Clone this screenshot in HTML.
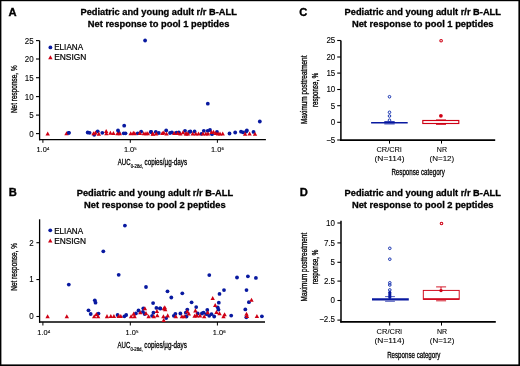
<!DOCTYPE html>
<html><head><meta charset="utf-8"><style>
html,body{margin:0;padding:0;background:#fff;}
svg{display:block;will-change:transform;}
text{font-family:"Liberation Sans",sans-serif;}
</style></head><body>
<svg width="520" height="366" viewBox="0 0 520 366">
<rect x="0" y="0" width="520" height="366" fill="#fff"/>
<text x="8.5" y="15.55" font-size="11.2" text-anchor="start" font-weight="bold" fill="#000" stroke="#000" stroke-width="0.35" >A</text>
<text x="8.8" y="196.25" font-size="11.2" text-anchor="start" font-weight="bold" fill="#000" stroke="#000" stroke-width="0.35" >B</text>
<text x="299.2" y="15.55" font-size="11.2" text-anchor="start" font-weight="bold" fill="#000" stroke="#000" stroke-width="0.35" >C</text>
<text x="299.7" y="196.25" font-size="11.2" text-anchor="start" font-weight="bold" fill="#000" stroke="#000" stroke-width="0.35" >D</text>
<text x="158.65" y="15.4" font-size="9.4" text-anchor="middle" font-weight="bold" fill="#000" textLength="156.4" lengthAdjust="spacingAndGlyphs" stroke="#000" stroke-width="0.3" >Pediatric and young adult r/r B-ALL</text>
<text x="158.65" y="26.6" font-size="9.4" text-anchor="middle" font-weight="bold" fill="#000" textLength="141.6" lengthAdjust="spacingAndGlyphs" stroke="#000" stroke-width="0.3" >Net response to pool 1 peptides</text>
<text x="154.9" y="196.4" font-size="9.4" text-anchor="middle" font-weight="bold" fill="#000" textLength="156.4" lengthAdjust="spacingAndGlyphs" stroke="#000" stroke-width="0.3" >Pediatric and young adult r/r B-ALL</text>
<text x="154.9" y="207.6" font-size="9.4" text-anchor="middle" font-weight="bold" fill="#000" textLength="141.6" lengthAdjust="spacingAndGlyphs" stroke="#000" stroke-width="0.3" >Net response to pool 2 peptides</text>
<text x="422.75" y="15.4" font-size="9.4" text-anchor="middle" font-weight="bold" fill="#000" textLength="156.4" lengthAdjust="spacingAndGlyphs" stroke="#000" stroke-width="0.3" >Pediatric and young adult r/r B-ALL</text>
<text x="422.75" y="26.6" font-size="9.4" text-anchor="middle" font-weight="bold" fill="#000" textLength="141.6" lengthAdjust="spacingAndGlyphs" stroke="#000" stroke-width="0.3" >Net response to pool 1 peptides</text>
<text x="422.75" y="196.4" font-size="9.4" text-anchor="middle" font-weight="bold" fill="#000" textLength="156.4" lengthAdjust="spacingAndGlyphs" stroke="#000" stroke-width="0.3" >Pediatric and young adult r/r B-ALL</text>
<text x="422.75" y="207.6" font-size="9.4" text-anchor="middle" font-weight="bold" fill="#000" textLength="141.6" lengthAdjust="spacingAndGlyphs" stroke="#000" stroke-width="0.3" >Net response to pool 2 peptides</text>
<line x1="39.6" y1="40.6" x2="39.6" y2="140.3" stroke="#000" stroke-width="1.3" />
<line x1="39.0" y1="139.6" x2="265.9" y2="139.6" stroke="#000" stroke-width="1.4" />
<line x1="36.0" y1="40.6" x2="39.6" y2="40.6" stroke="#000" stroke-width="1.1" />
<text x="33.6" y="43.5" font-size="8.6" text-anchor="end" font-weight="normal" fill="#000" textLength="8.89" lengthAdjust="spacingAndGlyphs" stroke="#000" stroke-width="0.1" >25</text>
<line x1="36.0" y1="59.0" x2="39.6" y2="59.0" stroke="#000" stroke-width="1.1" />
<text x="33.6" y="61.9" font-size="8.6" text-anchor="end" font-weight="normal" fill="#000" textLength="8.89" lengthAdjust="spacingAndGlyphs" stroke="#000" stroke-width="0.1" >20</text>
<line x1="36.0" y1="77.7" x2="39.6" y2="77.7" stroke="#000" stroke-width="1.1" />
<text x="33.6" y="80.60000000000001" font-size="8.6" text-anchor="end" font-weight="normal" fill="#000" textLength="8.89" lengthAdjust="spacingAndGlyphs" stroke="#000" stroke-width="0.1" >15</text>
<line x1="36.0" y1="96.6" x2="39.6" y2="96.6" stroke="#000" stroke-width="1.1" />
<text x="33.6" y="99.5" font-size="8.6" text-anchor="end" font-weight="normal" fill="#000" textLength="8.89" lengthAdjust="spacingAndGlyphs" stroke="#000" stroke-width="0.1" >10</text>
<line x1="36.0" y1="115.1" x2="39.6" y2="115.1" stroke="#000" stroke-width="1.1" />
<text x="33.6" y="118.0" font-size="8.6" text-anchor="end" font-weight="normal" fill="#000" textLength="4.45" lengthAdjust="spacingAndGlyphs" stroke="#000" stroke-width="0.1" >5</text>
<line x1="36.0" y1="133.6" x2="39.6" y2="133.6" stroke="#000" stroke-width="1.1" />
<text x="33.6" y="136.5" font-size="8.6" text-anchor="end" font-weight="normal" fill="#000" textLength="4.45" lengthAdjust="spacingAndGlyphs" stroke="#000" stroke-width="0.1" >0</text>
<line x1="42.9" y1="139.6" x2="42.9" y2="142.8" stroke="#000" stroke-width="1.0" />
<line x1="130.3" y1="139.6" x2="130.3" y2="142.8" stroke="#000" stroke-width="1.0" />
<line x1="217.4" y1="139.6" x2="217.4" y2="142.8" stroke="#000" stroke-width="1.0" />
<text x="36.5" y="152.2" font-size="8.1" text-anchor="start" font-weight="normal" fill="#000" textLength="10.3" lengthAdjust="spacingAndGlyphs" stroke="#000" stroke-width="0.12" >1.0</text>
<text x="46.9" y="149.6" font-size="4.2" text-anchor="start" font-weight="normal" fill="#000" stroke="#000" stroke-width="0.1" >4</text>
<text x="123.9" y="152.2" font-size="8.1" text-anchor="start" font-weight="normal" fill="#000" textLength="10.3" lengthAdjust="spacingAndGlyphs" stroke="#000" stroke-width="0.12" >1.0</text>
<text x="134.3" y="149.6" font-size="4.2" text-anchor="start" font-weight="normal" fill="#000" stroke="#000" stroke-width="0.1" >5</text>
<text x="211.0" y="152.2" font-size="8.1" text-anchor="start" font-weight="normal" fill="#000" textLength="10.3" lengthAdjust="spacingAndGlyphs" stroke="#000" stroke-width="0.12" >1.0</text>
<text x="221.4" y="149.6" font-size="4.2" text-anchor="start" font-weight="normal" fill="#000" stroke="#000" stroke-width="0.1" >6</text>
<text x="117.8" y="164.8" font-size="8.3" text-anchor="start" font-weight="normal" fill="#000" textLength="12.7" lengthAdjust="spacingAndGlyphs" stroke="#000" stroke-width="0.3" >AUC</text>
<text x="130.7" y="167.8" font-size="5" text-anchor="start" font-weight="normal" fill="#000" textLength="12.2" lengthAdjust="spacingAndGlyphs" stroke="#000" stroke-width="0.2" >0-28d,</text>
<text x="144.5" y="164.8" font-size="8.3" text-anchor="start" font-weight="normal" fill="#000" textLength="42.6" lengthAdjust="spacingAndGlyphs" stroke="#000" stroke-width="0.28" >copies/µg-days</text>
<text transform="translate(16.9,89.2) rotate(-90)" x="0" y="0" font-size="8.4" text-anchor="middle" fill="#000" stroke="#000" stroke-width="0.3" textLength="47.8" lengthAdjust="spacingAndGlyphs">Net response, %</text>
<circle cx="50.4" cy="47.4" r="1.9" fill="#0819a0"/>
<path d="M48.20 59.35L52.60 59.35L50.40 55.25Z" fill="#cf0014"/>
<text x="54.2" y="50.3" font-size="8.2" text-anchor="start" font-weight="normal" fill="#000" textLength="28.9" lengthAdjust="spacingAndGlyphs" stroke="#000" stroke-width="0.2" >ELIANA</text>
<text x="54.2" y="60.4" font-size="8.2" text-anchor="start" font-weight="normal" fill="#000" textLength="32.2" lengthAdjust="spacingAndGlyphs" stroke="#000" stroke-width="0.2" >ENSIGN</text>
<line x1="39.6" y1="219.3" x2="39.6" y2="322.75" stroke="#000" stroke-width="1.3" />
<line x1="39.0" y1="322.05" x2="265.0" y2="322.05" stroke="#000" stroke-width="1.4" />
<line x1="36.4" y1="242.7" x2="39.6" y2="242.7" stroke="#000" stroke-width="1.1" />
<text x="33.6" y="245.6" font-size="8.6" text-anchor="end" font-weight="normal" fill="#000" textLength="4.45" lengthAdjust="spacingAndGlyphs" stroke="#000" stroke-width="0.1" >2</text>
<line x1="36.4" y1="279.55" x2="39.6" y2="279.55" stroke="#000" stroke-width="1.1" />
<text x="33.6" y="282.45" font-size="8.6" text-anchor="end" font-weight="normal" fill="#000" textLength="4.45" lengthAdjust="spacingAndGlyphs" stroke="#000" stroke-width="0.1" >1</text>
<line x1="36.4" y1="316.5" x2="39.6" y2="316.5" stroke="#000" stroke-width="1.1" />
<text x="33.6" y="319.4" font-size="8.6" text-anchor="end" font-weight="normal" fill="#000" textLength="4.45" lengthAdjust="spacingAndGlyphs" stroke="#000" stroke-width="0.1" >0</text>
<line x1="42.9" y1="322.05" x2="42.9" y2="325.5" stroke="#000" stroke-width="1.0" />
<text x="37.3" y="335.3" font-size="8.1" text-anchor="start" font-weight="normal" fill="#000" textLength="10.3" lengthAdjust="spacingAndGlyphs" stroke="#000" stroke-width="0.12" >1.0</text>
<text x="47.699999999999996" y="332.5" font-size="4.4" text-anchor="start" font-weight="normal" fill="#000" stroke="#000" stroke-width="0.1" >4</text>
<line x1="130.3" y1="322.05" x2="130.3" y2="325.5" stroke="#000" stroke-width="1.0" />
<text x="125.60000000000001" y="335.3" font-size="8.1" text-anchor="start" font-weight="normal" fill="#000" textLength="10.3" lengthAdjust="spacingAndGlyphs" stroke="#000" stroke-width="0.12" >1.0</text>
<text x="136.0" y="332.5" font-size="4.4" text-anchor="start" font-weight="normal" fill="#000" stroke="#000" stroke-width="0.1" >5</text>
<line x1="217.4" y1="322.05" x2="217.4" y2="325.5" stroke="#000" stroke-width="1.0" />
<text x="212.8" y="335.3" font-size="8.1" text-anchor="start" font-weight="normal" fill="#000" textLength="10.3" lengthAdjust="spacingAndGlyphs" stroke="#000" stroke-width="0.12" >1.0</text>
<text x="223.20000000000002" y="332.5" font-size="4.4" text-anchor="start" font-weight="normal" fill="#000" stroke="#000" stroke-width="0.1" >6</text>
<text x="117.6" y="347.8" font-size="8.3" text-anchor="start" font-weight="normal" fill="#000" textLength="12.7" lengthAdjust="spacingAndGlyphs" stroke="#000" stroke-width="0.3" >AUC</text>
<text x="130.5" y="350.8" font-size="5" text-anchor="start" font-weight="normal" fill="#000" textLength="12.2" lengthAdjust="spacingAndGlyphs" stroke="#000" stroke-width="0.2" >0-28d,</text>
<text x="144.3" y="347.8" font-size="8.3" text-anchor="start" font-weight="normal" fill="#000" textLength="42.6" lengthAdjust="spacingAndGlyphs" stroke="#000" stroke-width="0.28" >copies/µg-days</text>
<text transform="translate(16.9,266.9) rotate(-90)" x="0" y="0" font-size="8.4" text-anchor="middle" fill="#000" stroke="#000" stroke-width="0.3" textLength="47.8" lengthAdjust="spacingAndGlyphs">Net response, %</text>
<circle cx="50.25" cy="230.3" r="1.9" fill="#0819a0"/>
<path d="M48.05 242.55L52.45 242.55L50.25 238.45Z" fill="#cf0014"/>
<text x="54.2" y="233.5" font-size="8.2" text-anchor="start" font-weight="normal" fill="#000" textLength="28.9" lengthAdjust="spacingAndGlyphs" stroke="#000" stroke-width="0.2" >ELIANA</text>
<text x="54.2" y="243.5" font-size="8.2" text-anchor="start" font-weight="normal" fill="#000" textLength="31.9" lengthAdjust="spacingAndGlyphs" stroke="#000" stroke-width="0.2" >ENSIGN</text>
<g>
<circle cx="68.8" cy="132.8" r="1.9" fill="#0819a0"/>
<circle cx="87.7" cy="132.5" r="1.9" fill="#0819a0"/>
<circle cx="89.6" cy="132.8" r="1.9" fill="#0819a0"/>
<circle cx="94.2" cy="134.8" r="1.9" fill="#0819a0"/>
<circle cx="97.7" cy="131.3" r="1.9" fill="#0819a0"/>
<circle cx="102.3" cy="132.8" r="1.9" fill="#0819a0"/>
<circle cx="118.8" cy="133" r="1.9" fill="#0819a0"/>
<circle cx="124.2" cy="125.7" r="1.9" fill="#0819a0"/>
<circle cx="123.7" cy="133.3" r="1.9" fill="#0819a0"/>
<circle cx="125.5" cy="133.3" r="1.9" fill="#0819a0"/>
<circle cx="137.7" cy="133.3" r="1.9" fill="#0819a0"/>
<circle cx="141.2" cy="131.6" r="1.9" fill="#0819a0"/>
<circle cx="151.2" cy="132" r="1.9" fill="#0819a0"/>
<circle cx="145.1" cy="40.5" r="1.9" fill="#0819a0"/>
<circle cx="150.8" cy="131.9" r="1.9" fill="#0819a0"/>
<circle cx="155.8" cy="131.9" r="1.9" fill="#0819a0"/>
<circle cx="158.8" cy="133" r="1.9" fill="#0819a0"/>
<circle cx="166.2" cy="130.4" r="1.9" fill="#0819a0"/>
<circle cx="170" cy="133" r="1.9" fill="#0819a0"/>
<circle cx="171.9" cy="132.3" r="1.9" fill="#0819a0"/>
<circle cx="176.5" cy="132.6" r="1.9" fill="#0819a0"/>
<circle cx="178.8" cy="132.3" r="1.9" fill="#0819a0"/>
<circle cx="185" cy="130.8" r="1.9" fill="#0819a0"/>
<circle cx="189.2" cy="131.9" r="1.9" fill="#0819a0"/>
<circle cx="190.4" cy="131.5" r="1.9" fill="#0819a0"/>
<circle cx="194.6" cy="131.5" r="1.9" fill="#0819a0"/>
<circle cx="201.5" cy="133.8" r="1.9" fill="#0819a0"/>
<circle cx="203.8" cy="130.8" r="1.9" fill="#0819a0"/>
<circle cx="207.7" cy="130.8" r="1.9" fill="#0819a0"/>
<circle cx="210" cy="130" r="1.9" fill="#0819a0"/>
<circle cx="212" cy="134.2" r="1.9" fill="#0819a0"/>
<circle cx="217" cy="131.9" r="1.9" fill="#0819a0"/>
<circle cx="207.8" cy="103.7" r="1.9" fill="#0819a0"/>
<circle cx="229.5" cy="133.5" r="1.9" fill="#0819a0"/>
<circle cx="235.2" cy="132.5" r="1.9" fill="#0819a0"/>
<circle cx="241" cy="131.7" r="1.9" fill="#0819a0"/>
<circle cx="243" cy="132.3" r="1.9" fill="#0819a0"/>
<circle cx="246.9" cy="130.4" r="1.9" fill="#0819a0"/>
<circle cx="246.2" cy="131.5" r="1.9" fill="#0819a0"/>
<circle cx="253.5" cy="131.9" r="1.9" fill="#0819a0"/>
<circle cx="259.8" cy="121.5" r="1.9" fill="#0819a0"/>
<path d="M45.50 135.55L49.90 135.55L47.70 131.45Z" fill="#cf0014"/>
<path d="M64.30 135.35L68.70 135.35L66.50 131.25Z" fill="#cf0014"/>
<path d="M91.30 135.25L95.70 135.25L93.50 131.15Z" fill="#cf0014"/>
<path d="M93.20 134.55L97.60 134.55L95.40 130.45Z" fill="#cf0014"/>
<path d="M96.60 135.65L101.00 135.65L98.80 131.55Z" fill="#cf0014"/>
<path d="M104.00 133.05L108.40 133.05L106.20 128.95Z" fill="#cf0014"/>
<path d="M104.20 135.25L108.60 135.25L106.40 131.15Z" fill="#cf0014"/>
<path d="M108.20 134.75L112.60 134.75L110.40 130.65Z" fill="#cf0014"/>
<path d="M111.20 135.05L115.60 135.05L113.40 130.95Z" fill="#cf0014"/>
<path d="M115.30 135.35L119.70 135.35L117.50 131.25Z" fill="#cf0014"/>
<path d="M117.60 135.35L122.00 135.35L119.80 131.25Z" fill="#cf0014"/>
<path d="M128.50 135.35L132.90 135.35L130.70 131.25Z" fill="#cf0014"/>
<path d="M131.10 134.95L135.50 134.95L133.30 130.85Z" fill="#cf0014"/>
<path d="M132.50 135.35L136.90 135.35L134.70 131.25Z" fill="#cf0014"/>
<path d="M137.70 134.95L142.10 134.95L139.90 130.85Z" fill="#cf0014"/>
<path d="M141.60 135.35L146.00 135.35L143.80 131.25Z" fill="#cf0014"/>
<path d="M143.80 135.35L148.20 135.35L146.00 131.25Z" fill="#cf0014"/>
<path d="M145.60 135.35L150.00 135.35L147.80 131.25Z" fill="#cf0014"/>
<path d="M150.80 135.85L155.20 135.85L153.00 131.75Z" fill="#cf0014"/>
<path d="M150.50 135.55L154.90 135.55L152.70 131.45Z" fill="#cf0014"/>
<path d="M154.00 135.55L158.40 135.55L156.20 131.45Z" fill="#cf0014"/>
<path d="M160.10 135.05L164.50 135.05L162.30 130.95Z" fill="#cf0014"/>
<path d="M161.60 134.55L166.00 134.55L163.80 130.45Z" fill="#cf0014"/>
<path d="M164.30 135.55L168.70 135.55L166.50 131.45Z" fill="#cf0014"/>
<path d="M172.00 135.05L176.40 135.05L174.20 130.95Z" fill="#cf0014"/>
<path d="M175.50 135.05L179.90 135.05L177.70 130.95Z" fill="#cf0014"/>
<path d="M178.20 135.55L182.60 135.55L180.40 131.45Z" fill="#cf0014"/>
<path d="M180.80 134.35L185.20 134.35L183.00 130.25Z" fill="#cf0014"/>
<path d="M184.30 135.55L188.70 135.55L186.50 131.45Z" fill="#cf0014"/>
<path d="M183.60 135.55L188.00 135.55L185.80 131.45Z" fill="#cf0014"/>
<path d="M185.80 135.55L190.20 135.55L188.00 131.45Z" fill="#cf0014"/>
<path d="M190.50 135.55L194.90 135.55L192.70 131.45Z" fill="#cf0014"/>
<path d="M193.60 135.55L198.00 135.55L195.80 131.45Z" fill="#cf0014"/>
<path d="M196.30 135.55L200.70 135.55L198.50 131.45Z" fill="#cf0014"/>
<path d="M200.80 135.55L205.20 135.55L203.00 131.45Z" fill="#cf0014"/>
<path d="M203.60 135.55L208.00 135.55L205.80 131.45Z" fill="#cf0014"/>
<path d="M205.80 135.55L210.20 135.55L208.00 131.45Z" fill="#cf0014"/>
<path d="M209.30 134.05L213.70 134.05L211.50 129.95Z" fill="#cf0014"/>
<path d="M211.30 133.75L215.70 133.75L213.50 129.65Z" fill="#cf0014"/>
<path d="M213.60 135.05L218.00 135.05L215.80 130.95Z" fill="#cf0014"/>
<path d="M215.80 135.55L220.20 135.55L218.00 131.45Z" fill="#cf0014"/>
<path d="M217.80 135.55L222.20 135.55L220.00 131.45Z" fill="#cf0014"/>
<path d="M220.50 135.55L224.90 135.55L222.70 131.45Z" fill="#cf0014"/>
<path d="M242.90 135.85L247.30 135.85L245.10 131.75Z" fill="#cf0014"/>
<path d="M247.40 135.55L251.80 135.55L249.60 131.45Z" fill="#cf0014"/>
<path d="M252.80 135.85L257.20 135.85L255.00 131.75Z" fill="#cf0014"/>
<circle cx="68.8" cy="284.6" r="1.9" fill="#0819a0"/>
<circle cx="103.3" cy="251.3" r="1.9" fill="#0819a0"/>
<circle cx="124.9" cy="225.6" r="1.9" fill="#0819a0"/>
<circle cx="118.7" cy="274.8" r="1.9" fill="#0819a0"/>
<circle cx="146" cy="287" r="1.9" fill="#0819a0"/>
<circle cx="94.8" cy="300.3" r="1.9" fill="#0819a0"/>
<circle cx="95.5" cy="302.7" r="1.9" fill="#0819a0"/>
<circle cx="88.5" cy="310.3" r="1.9" fill="#0819a0"/>
<circle cx="90.7" cy="314" r="1.9" fill="#0819a0"/>
<circle cx="98.5" cy="313.6" r="1.9" fill="#0819a0"/>
<circle cx="117.6" cy="315" r="1.9" fill="#0819a0"/>
<circle cx="124.4" cy="316.3" r="1.9" fill="#0819a0"/>
<circle cx="126.2" cy="315" r="1.9" fill="#0819a0"/>
<circle cx="135.9" cy="313.4" r="1.9" fill="#0819a0"/>
<circle cx="138.5" cy="310.5" r="1.9" fill="#0819a0"/>
<circle cx="142.9" cy="311.8" r="1.9" fill="#0819a0"/>
<circle cx="143.3" cy="308.3" r="1.9" fill="#0819a0"/>
<circle cx="144.7" cy="314" r="1.9" fill="#0819a0"/>
<circle cx="153.1" cy="303.1" r="1.9" fill="#0819a0"/>
<circle cx="152.1" cy="315.8" r="1.9" fill="#0819a0"/>
<circle cx="153.4" cy="312.7" r="1.9" fill="#0819a0"/>
<circle cx="156.4" cy="307.9" r="1.9" fill="#0819a0"/>
<circle cx="159.9" cy="308.3" r="1.9" fill="#0819a0"/>
<circle cx="167.5" cy="291.3" r="1.9" fill="#0819a0"/>
<circle cx="171.3" cy="297.5" r="1.9" fill="#0819a0"/>
<circle cx="182.3" cy="293.3" r="1.9" fill="#0819a0"/>
<circle cx="191.6" cy="302.3" r="1.9" fill="#0819a0"/>
<circle cx="196.2" cy="307.1" r="1.9" fill="#0819a0"/>
<circle cx="160.4" cy="308.5" r="1.9" fill="#0819a0"/>
<circle cx="166.2" cy="318.1" r="1.9" fill="#0819a0"/>
<circle cx="175.4" cy="313.8" r="1.9" fill="#0819a0"/>
<circle cx="173.8" cy="315.8" r="1.9" fill="#0819a0"/>
<circle cx="180.4" cy="313.5" r="1.9" fill="#0819a0"/>
<circle cx="185.8" cy="312.7" r="1.9" fill="#0819a0"/>
<circle cx="186.5" cy="316.5" r="1.9" fill="#0819a0"/>
<circle cx="187.3" cy="309.6" r="1.9" fill="#0819a0"/>
<circle cx="197.7" cy="313.5" r="1.9" fill="#0819a0"/>
<circle cx="209.3" cy="275.1" r="1.9" fill="#0819a0"/>
<circle cx="224" cy="290.1" r="1.9" fill="#0819a0"/>
<circle cx="219.5" cy="293.9" r="1.9" fill="#0819a0"/>
<circle cx="218.8" cy="302.7" r="1.9" fill="#0819a0"/>
<circle cx="217.7" cy="307.3" r="1.9" fill="#0819a0"/>
<circle cx="218.5" cy="309.6" r="1.9" fill="#0819a0"/>
<circle cx="201.9" cy="313.5" r="1.9" fill="#0819a0"/>
<circle cx="203.5" cy="312.7" r="1.9" fill="#0819a0"/>
<circle cx="207.3" cy="310" r="1.9" fill="#0819a0"/>
<circle cx="206.5" cy="314.2" r="1.9" fill="#0819a0"/>
<circle cx="209.2" cy="315.8" r="1.9" fill="#0819a0"/>
<circle cx="211.5" cy="314.2" r="1.9" fill="#0819a0"/>
<circle cx="214.2" cy="316.5" r="1.9" fill="#0819a0"/>
<circle cx="231.2" cy="315.6" r="1.9" fill="#0819a0"/>
<circle cx="237" cy="277.5" r="1.9" fill="#0819a0"/>
<circle cx="247.9" cy="276.3" r="1.9" fill="#0819a0"/>
<circle cx="255.9" cy="277.9" r="1.9" fill="#0819a0"/>
<circle cx="246.5" cy="290.1" r="1.9" fill="#0819a0"/>
<circle cx="248.9" cy="302.2" r="1.9" fill="#0819a0"/>
<circle cx="245.3" cy="309.4" r="1.9" fill="#0819a0"/>
<circle cx="246.3" cy="317.3" r="1.9" fill="#0819a0"/>
<circle cx="261.9" cy="316.3" r="1.9" fill="#0819a0"/>
<path d="M45.40 318.35L49.80 318.35L47.60 314.25Z" fill="#cf0014"/>
<path d="M64.60 318.35L69.00 318.35L66.80 314.25Z" fill="#cf0014"/>
<path d="M92.00 318.25L96.40 318.25L94.20 314.15Z" fill="#cf0014"/>
<path d="M94.20 316.05L98.60 316.05L96.40 311.95Z" fill="#cf0014"/>
<path d="M95.90 318.25L100.30 318.25L98.10 314.15Z" fill="#cf0014"/>
<path d="M104.80 318.15L109.20 318.15L107.00 314.05Z" fill="#cf0014"/>
<path d="M108.60 318.05L113.00 318.05L110.80 313.95Z" fill="#cf0014"/>
<path d="M111.70 318.05L116.10 318.05L113.90 313.95Z" fill="#cf0014"/>
<path d="M116.50 318.05L120.90 318.05L118.70 313.95Z" fill="#cf0014"/>
<path d="M118.60 318.05L123.00 318.05L120.80 313.95Z" fill="#cf0014"/>
<path d="M128.90 318.25L133.30 318.25L131.10 314.15Z" fill="#cf0014"/>
<path d="M131.50 315.65L135.90 315.65L133.70 311.55Z" fill="#cf0014"/>
<path d="M132.40 318.25L136.80 318.25L134.60 314.15Z" fill="#cf0014"/>
<path d="M138.10 314.35L142.50 314.35L140.30 310.25Z" fill="#cf0014"/>
<path d="M142.70 310.35L147.10 310.35L144.90 306.25Z" fill="#cf0014"/>
<path d="M143.80 315.15L148.20 315.15L146.00 311.05Z" fill="#cf0014"/>
<path d="M146.40 318.25L150.80 318.25L148.60 314.15Z" fill="#cf0014"/>
<path d="M151.60 318.25L156.00 318.25L153.80 314.15Z" fill="#cf0014"/>
<path d="M154.70 313.05L159.10 313.05L156.90 308.95Z" fill="#cf0014"/>
<path d="M155.10 317.35L159.50 317.35L157.30 313.25Z" fill="#cf0014"/>
<path d="M161.70 310.35L166.10 310.35L163.90 306.25Z" fill="#cf0014"/>
<path d="M161.20 318.25L165.60 318.25L163.40 314.15Z" fill="#cf0014"/>
<path d="M162.60 309.35L167.00 309.35L164.80 305.25Z" fill="#cf0014"/>
<path d="M163.00 311.25L167.40 311.25L165.20 307.15Z" fill="#cf0014"/>
<path d="M165.50 317.45L169.90 317.45L167.70 313.35Z" fill="#cf0014"/>
<path d="M161.50 322.05L165.90 322.05L163.70 317.95Z" fill="#cf0014"/>
<path d="M173.60 318.25L178.00 318.25L175.80 314.15Z" fill="#cf0014"/>
<path d="M179.70 318.25L184.10 318.25L181.90 314.15Z" fill="#cf0014"/>
<path d="M182.00 318.25L186.40 318.25L184.20 314.15Z" fill="#cf0014"/>
<path d="M185.10 313.25L189.50 313.25L187.30 309.15Z" fill="#cf0014"/>
<path d="M186.60 315.55L191.00 315.55L188.80 311.45Z" fill="#cf0014"/>
<path d="M192.40 317.85L196.80 317.85L194.60 313.75Z" fill="#cf0014"/>
<path d="M193.20 312.45L197.60 312.45L195.40 308.35Z" fill="#cf0014"/>
<path d="M194.70 317.55L199.10 317.55L196.90 313.45Z" fill="#cf0014"/>
<path d="M210.50 300.05L214.90 300.05L212.70 295.95Z" fill="#cf0014"/>
<path d="M213.00 307.05L217.40 307.05L215.20 302.95Z" fill="#cf0014"/>
<path d="M214.30 313.95L218.70 313.95L216.50 309.85Z" fill="#cf0014"/>
<path d="M217.30 315.15L221.70 315.15L219.50 311.05Z" fill="#cf0014"/>
<path d="M194.30 317.05L198.70 317.05L196.50 312.95Z" fill="#cf0014"/>
<path d="M197.80 317.45L202.20 317.45L200.00 313.35Z" fill="#cf0014"/>
<path d="M202.00 318.25L206.40 318.25L204.20 314.15Z" fill="#cf0014"/>
<path d="M205.50 314.35L209.90 314.35L207.70 310.25Z" fill="#cf0014"/>
<path d="M221.30 318.25L225.70 318.25L223.50 314.15Z" fill="#cf0014"/>
<path d="M222.40 316.25L226.80 316.25L224.60 312.15Z" fill="#cf0014"/>
<path d="M249.30 301.85L253.70 301.85L251.50 297.75Z" fill="#cf0014"/>
<path d="M244.30 315.75L248.70 315.75L246.50 311.65Z" fill="#cf0014"/>
<path d="M244.80 318.05L249.20 318.05L247.00 313.95Z" fill="#cf0014"/>
<path d="M254.70 318.05L259.10 318.05L256.90 313.95Z" fill="#cf0014"/>
<circle cx="68.8" cy="132.8" r="1.9" fill="#0819a0"/>
<circle cx="118.0" cy="130.4" r="1.9" fill="#0819a0"/>
</g>
<line x1="340.9" y1="40.5" x2="340.9" y2="140.9" stroke="#000" stroke-width="1.5" />
<line x1="337.2" y1="40.5" x2="340.9" y2="40.5" stroke="#000" stroke-width="1.1" />
<line x1="340.1" y1="140.15" x2="495.2" y2="140.15" stroke="#000" stroke-width="1.6" />
<text x="335.3" y="43.4" font-size="8.6" text-anchor="end" font-weight="normal" fill="#000" textLength="8.89" lengthAdjust="spacingAndGlyphs" stroke="#000" stroke-width="0.1" >25</text>
<line x1="337.2" y1="57.0" x2="340.8" y2="57.0" stroke="#000" stroke-width="1.1" />
<text x="335.3" y="59.9" font-size="8.6" text-anchor="end" font-weight="normal" fill="#000" textLength="8.89" lengthAdjust="spacingAndGlyphs" stroke="#000" stroke-width="0.1" >20</text>
<line x1="337.2" y1="73.1" x2="340.8" y2="73.1" stroke="#000" stroke-width="1.1" />
<text x="335.3" y="76.0" font-size="8.6" text-anchor="end" font-weight="normal" fill="#000" textLength="8.89" lengthAdjust="spacingAndGlyphs" stroke="#000" stroke-width="0.1" >15</text>
<line x1="337.2" y1="89.5" x2="340.8" y2="89.5" stroke="#000" stroke-width="1.1" />
<text x="335.3" y="92.4" font-size="8.6" text-anchor="end" font-weight="normal" fill="#000" textLength="8.89" lengthAdjust="spacingAndGlyphs" stroke="#000" stroke-width="0.1" >10</text>
<line x1="337.2" y1="105.7" x2="340.8" y2="105.7" stroke="#000" stroke-width="1.1" />
<text x="335.3" y="108.60000000000001" font-size="8.6" text-anchor="end" font-weight="normal" fill="#000" textLength="4.45" lengthAdjust="spacingAndGlyphs" stroke="#000" stroke-width="0.1" >5</text>
<line x1="337.2" y1="122.3" x2="340.8" y2="122.3" stroke="#000" stroke-width="1.1" />
<text x="335.3" y="125.2" font-size="8.6" text-anchor="end" font-weight="normal" fill="#000" textLength="4.45" lengthAdjust="spacingAndGlyphs" stroke="#000" stroke-width="0.1" >0</text>
<line x1="337.2" y1="140.0" x2="340.8" y2="140.0" stroke="#000" stroke-width="1.1" />
<text x="335.3" y="142.9" font-size="8.6" text-anchor="end" font-weight="normal" fill="#000" textLength="9.12" lengthAdjust="spacingAndGlyphs" stroke="#000" stroke-width="0.1" >−5</text>
<line x1="389.5" y1="140.15" x2="389.5" y2="143.6" stroke="#000" stroke-width="1.0" />
<line x1="441.5" y1="140.15" x2="441.5" y2="143.6" stroke="#000" stroke-width="1.0" />
<text x="389.0" y="152.2" font-size="7.5" text-anchor="middle" font-weight="normal" fill="#000" textLength="25.2" lengthAdjust="spacingAndGlyphs" stroke="#000" stroke-width="0.08" >CR/CRi</text>
<text x="389.5" y="161.4" font-size="7.5" text-anchor="middle" font-weight="normal" fill="#000" textLength="29.9" lengthAdjust="spacingAndGlyphs" stroke="#000" stroke-width="0.08" >(N=114)</text>
<text x="441.9" y="152.2" font-size="7.5" text-anchor="middle" font-weight="normal" fill="#000" textLength="10.2" lengthAdjust="spacingAndGlyphs" stroke="#000" stroke-width="0.08" >NR</text>
<text x="441.9" y="161.4" font-size="7.5" text-anchor="middle" font-weight="normal" fill="#000" textLength="24.6" lengthAdjust="spacingAndGlyphs" stroke="#000" stroke-width="0.08" >(N=12)</text>
<text x="418.1" y="174.5" font-size="8.4" text-anchor="middle" font-weight="normal" fill="#000" textLength="53.4" lengthAdjust="spacingAndGlyphs" stroke="#000" stroke-width="0.28" >Response category</text>
<text transform="translate(306.7,89.8) rotate(-90)" x="0" y="0" font-size="8.4" text-anchor="middle" fill="#000" stroke="#000" stroke-width="0.3" textLength="68.4" lengthAdjust="spacingAndGlyphs">Maximum posttreatment</text>
<text transform="translate(317.7,89.85) rotate(-90)" x="0" y="0" font-size="8.4" text-anchor="middle" fill="#000" stroke="#000" stroke-width="0.3" textLength="34.3" lengthAdjust="spacingAndGlyphs">response, %</text>
<line x1="371.1" y1="122.8" x2="407.7" y2="122.8" stroke="#0819a0" stroke-width="1.4" />
<line x1="384.3" y1="121.6" x2="394.7" y2="121.6" stroke="#0819a0" stroke-width="0.9" />
<line x1="384.3" y1="123.9" x2="394.7" y2="123.9" stroke="#0819a0" stroke-width="0.9" />
<circle cx="389.5" cy="96.75" r="1.3" fill="none" stroke="#1632b0" stroke-width="1.0"/>
<circle cx="389.5" cy="112.3" r="1.3" fill="none" stroke="#1632b0" stroke-width="1.0"/>
<circle cx="389.5" cy="116.0" r="1.3" fill="none" stroke="#1632b0" stroke-width="1.0"/>
<circle cx="389.5" cy="120.2" r="1.3" fill="none" stroke="#1632b0" stroke-width="1.0"/>
<rect x="422.8" y="120.5" width="36.0" height="3.0" fill="none" stroke="#cf0014" stroke-width="1.15"/>
<line x1="436" y1="119.9" x2="446" y2="119.9" stroke="#cf0014" stroke-width="0.9" />
<line x1="436" y1="124.4" x2="446" y2="124.4" stroke="#cf0014" stroke-width="0.9" />
<circle cx="440.9" cy="115.8" r="1.9" fill="#cf0014"/>
<circle cx="441.1" cy="40.75" r="1.3" fill="none" stroke="#cf0014" stroke-width="1.05"/>
<line x1="341.0" y1="220.7" x2="341.0" y2="322.5" stroke="#000" stroke-width="1.5" />
<line x1="340.2" y1="321.95" x2="495.8" y2="321.95" stroke="#000" stroke-width="1.7" />
<line x1="337.4" y1="223.0" x2="341.0" y2="223.0" stroke="#000" stroke-width="1.1" />
<text x="335.0" y="225.9" font-size="8.6" text-anchor="end" font-weight="normal" fill="#000" textLength="8.89" lengthAdjust="spacingAndGlyphs" stroke="#000" stroke-width="0.1" >10</text>
<line x1="337.4" y1="242.9" x2="341.0" y2="242.9" stroke="#000" stroke-width="1.1" />
<text x="335.0" y="245.8" font-size="8.6" text-anchor="end" font-weight="normal" fill="#000" textLength="11.12" lengthAdjust="spacingAndGlyphs" stroke="#000" stroke-width="0.1" >7.5</text>
<line x1="337.4" y1="262.3" x2="341.0" y2="262.3" stroke="#000" stroke-width="1.1" />
<text x="335.0" y="265.2" font-size="8.6" text-anchor="end" font-weight="normal" fill="#000" textLength="4.45" lengthAdjust="spacingAndGlyphs" stroke="#000" stroke-width="0.1" >5</text>
<line x1="337.4" y1="281.1" x2="341.0" y2="281.1" stroke="#000" stroke-width="1.1" />
<text x="335.0" y="284.0" font-size="8.6" text-anchor="end" font-weight="normal" fill="#000" textLength="11.12" lengthAdjust="spacingAndGlyphs" stroke="#000" stroke-width="0.1" >2.5</text>
<line x1="337.4" y1="300.5" x2="341.0" y2="300.5" stroke="#000" stroke-width="1.1" />
<text x="335.0" y="303.4" font-size="8.6" text-anchor="end" font-weight="normal" fill="#000" textLength="4.45" lengthAdjust="spacingAndGlyphs" stroke="#000" stroke-width="0.1" >0</text>
<line x1="337.4" y1="320.1" x2="341.0" y2="320.1" stroke="#000" stroke-width="1.1" />
<text x="335.0" y="322.3" font-size="8.6" text-anchor="end" font-weight="normal" fill="#000" textLength="15.79" lengthAdjust="spacingAndGlyphs" stroke="#000" stroke-width="0.1" >−2.5</text>
<line x1="389.7" y1="321.95" x2="389.7" y2="325.6" stroke="#000" stroke-width="1.0" />
<line x1="441.5" y1="321.95" x2="441.5" y2="325.6" stroke="#000" stroke-width="1.0" />
<text x="389.3" y="334.3" font-size="7.5" text-anchor="middle" font-weight="normal" fill="#000" textLength="25.4" lengthAdjust="spacingAndGlyphs" stroke="#000" stroke-width="0.08" >CR/CRi</text>
<text x="389.5" y="343.3" font-size="7.5" text-anchor="middle" font-weight="normal" fill="#000" textLength="29.9" lengthAdjust="spacingAndGlyphs" stroke="#000" stroke-width="0.08" >(N=114)</text>
<text x="442.1" y="334.3" font-size="7.5" text-anchor="middle" font-weight="normal" fill="#000" textLength="10.2" lengthAdjust="spacingAndGlyphs" stroke="#000" stroke-width="0.08" >NR</text>
<text x="442.1" y="343.3" font-size="7.5" text-anchor="middle" font-weight="normal" fill="#000" textLength="24.6" lengthAdjust="spacingAndGlyphs" stroke="#000" stroke-width="0.08" >(N=12)</text>
<text x="413.75" y="357.75" font-size="8.4" text-anchor="middle" font-weight="normal" fill="#000" textLength="53.2" lengthAdjust="spacingAndGlyphs" stroke="#000" stroke-width="0.28" >Response category</text>
<text transform="translate(306.7,267.1) rotate(-90)" x="0" y="0" font-size="8.4" text-anchor="middle" fill="#000" stroke="#000" stroke-width="0.3" textLength="68.6" lengthAdjust="spacingAndGlyphs">Maximum posttreatment</text>
<text transform="translate(317.7,267.05) rotate(-90)" x="0" y="0" font-size="8.4" text-anchor="middle" fill="#000" stroke="#000" stroke-width="0.3" textLength="34.5" lengthAdjust="spacingAndGlyphs">response, %</text>
<line x1="372.0" y1="299.4" x2="408.8" y2="299.4" stroke="#0819a0" stroke-width="2.4" />
<line x1="385.1" y1="296.6" x2="394.9" y2="296.6" stroke="#0819a0" stroke-width="0.7" />
<line x1="385.1" y1="301.3" x2="394.9" y2="301.3" stroke="#0819a0" stroke-width="0.7" />
<line x1="389.8" y1="292.2" x2="389.8" y2="297.5" stroke="#0819a0" stroke-width="3" stroke-linecap="round"/>
<circle cx="389.8" cy="248.3" r="1.3" fill="none" stroke="#1632b0" stroke-width="1.0"/>
<circle cx="389.8" cy="259.2" r="1.3" fill="none" stroke="#1632b0" stroke-width="1.0"/>
<circle cx="389.8" cy="282.8" r="1.3" fill="none" stroke="#1632b0" stroke-width="1.0"/>
<circle cx="389.8" cy="285.0" r="1.3" fill="none" stroke="#1632b0" stroke-width="1.0"/>
<circle cx="389.8" cy="289.9" r="1.3" fill="none" stroke="#1632b0" stroke-width="1.0"/>
<rect x="423.3" y="290.4" width="35.9" height="8.9" fill="none" stroke="#cf0014" stroke-width="0.95"/>
<line x1="423.3" y1="299.0" x2="459.2" y2="299.0" stroke="#cf0014" stroke-width="1.6" />
<line x1="436.1" y1="286.9" x2="446.1" y2="286.9" stroke="#cf0014" stroke-width="0.9" />
<line x1="441.0" y1="286.9" x2="441.0" y2="290.4" stroke="#cf0014" stroke-width="0.9" />
<line x1="436.1" y1="300.8" x2="446.1" y2="300.8" stroke="#cf0014" stroke-width="0.9" />
<circle cx="441.0" cy="290.6" r="1.7" fill="#cf0014"/>
<circle cx="441.5" cy="223.5" r="1.3" fill="none" stroke="#cf0014" stroke-width="1.05"/>
<rect x="0" y="0" width="520" height="1.2" fill="#000"/>
<rect x="0" y="0" width="1.4" height="366" fill="#000"/>
<rect x="518.4" y="0" width="1.6" height="366" fill="#000"/>
<rect x="0" y="364.4" width="520" height="1.6" fill="#000"/>
</svg>
</body></html>
